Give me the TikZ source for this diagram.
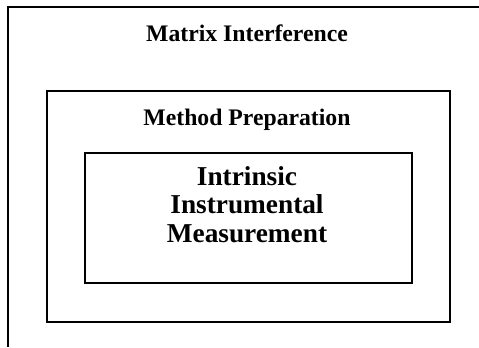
\documentclass[tikz,border=0pt]{standalone}
\usepackage{fontspec}
\setmainfont{Liberation Serif}
\begin{document}
\begin{tikzpicture}[x=1bp,y=-1bp,
  frame/.style={draw=black,line width=2bp},
  box/.style={draw=black,line width=2bp,inner sep=0pt,fill=none},
  lbl/.style={font=\bfseries\fontsize{23.8}{28}\selectfont,inner sep=0pt,anchor=base},
  big/.style={font=\bfseries\fontsize{27.4}{28.6}\selectfont,inner sep=0pt,align=center,anchor=center}]
\useasboundingbox (0,0) rectangle (479,347);
\fill[white] (0,0) rectangle (479,347);
\coordinate (otr) at (479,7);
\coordinate (otl) at (8,7);
\coordinate (obl) at (8,347);
\draw[frame] (otr) -- (otl) -- (obl);
\node[box,minimum width=403bp,minimum height=231bp,anchor=north west] (method) at (46,90) {};
\node[box,minimum width=327bp,minimum height=130bp,anchor=north west] (intr) at (84,152) {};
\node[lbl] (t1) at (247,41) {Matrix Interference};
\node[lbl] (t2) at (247,125) {Method Preparation};
\node[big] (t3) at (247,204.3) {Intrinsic\\Instrumental\\Measurement};
\end{tikzpicture}
\end{document}
